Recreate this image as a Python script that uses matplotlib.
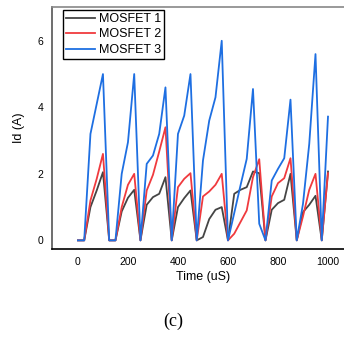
import matplotlib.pyplot as plt

plt.rcParams['font.family'] = ['Liberation Sans', 'DejaVu Sans']

time_us = [0, 25, 50, 75, 100, 125, 150, 175, 200, 225,
           250, 275, 300, 325, 350, 375, 400, 425, 450, 475,
           500, 525, 550, 575, 600, 625, 650, 675, 700, 725,
           750, 775, 800, 825, 850, 875, 900, 925, 950, 975, 1000]

mosfet1 = [0, 0, 1.0, 1.5, 2.05, 0, 0, 0.87, 1.28, 1.52,
           0, 1.07, 1.3, 1.4, 1.9, 0, 1.0, 1.27, 1.5, 0,
           0.1, 0.64, 0.92, 1.0, 0, 1.4, 1.52, 1.6, 2.07, 2.02,
           0, 0.92, 1.12, 1.22, 2.0, 0, 0.85, 1.07, 1.34, 0, 2.07]

mosfet2 = [0, 0, 1.2, 1.85, 2.6, 0, 0, 1.0, 1.67, 2.0,
           0, 1.5, 1.97, 2.67, 3.4, 0, 1.6, 1.85, 2.02, 0,
           1.32, 1.47, 1.67, 2.0, 0, 0.2, 0.55, 0.9, 1.9, 2.44,
           0, 1.32, 1.72, 1.87, 2.47, 0, 0.72, 1.52, 2.0, 0, 2.02]

mosfet3 = [0, 0, 3.2, 4.1, 5.0, 0, 0, 2.0, 2.95, 5.0,
           0, 2.3, 2.55, 3.2, 4.6, 0, 3.2, 3.75, 5.0, 0,
           2.4, 3.6, 4.3, 6.0, 0, 0.82, 1.65, 2.45, 4.55, 0.5,
           0, 1.8, 2.15, 2.47, 4.23, 0, 1.1, 2.9, 5.6, 0, 3.72]

fig = plt.figure(figsize=(3.44, 3.43), dpi=100)
ax = fig.add_axes([0.151, 0.274, 0.849, 0.706])

ax.plot(time_us, mosfet1, color='#454545', lw=1.3, label='MOSFET 1')
ax.plot(time_us, mosfet2, color='#f03a3e', lw=1.3, label='MOSFET 2')
ax.plot(time_us, mosfet3, color='#1e6fe2', lw=1.3, label='MOSFET 3')

ax.set_xlim(-104, 1064)
ax.set_ylim(-0.26, 7.02)
ax.set_xticks([0, 200, 400, 600, 800, 1000])
ax.set_yticks([0, 2, 4, 6])
ax.tick_params(length=0, pad=6, labelsize=7.5)

ax.spines['right'].set_visible(False)
ax.spines['top'].set_color('#888888')
ax.spines['left'].set_color('#555555')
ax.spines['bottom'].set_color('black')
for s in ['top', 'left', 'bottom']:
    ax.spines[s].set_linewidth(1.2)

ax.set_xlabel('Time (uS)', fontsize=9)
ax.set_ylabel('Id (A)', fontsize=9)
ax.xaxis.set_label_coords(0.517, -0.09)
ax.yaxis.set_label_coords(-0.092, 0.5)

leg = ax.legend(loc='upper left', bbox_to_anchor=(0.038, 0.988), borderaxespad=0,
                fontsize=9, handlelength=2.3, handletextpad=0.3,
                labelspacing=0.28, borderpad=0.25, fancybox=False,
                framealpha=1, edgecolor='black')
leg.get_frame().set_linewidth(1.0)

fig.text(0.505, 0.064, '(c)', ha='center', va='center',
         family='Liberation Serif', fontsize=13)

fig.savefig('out.png', dpi=100)
